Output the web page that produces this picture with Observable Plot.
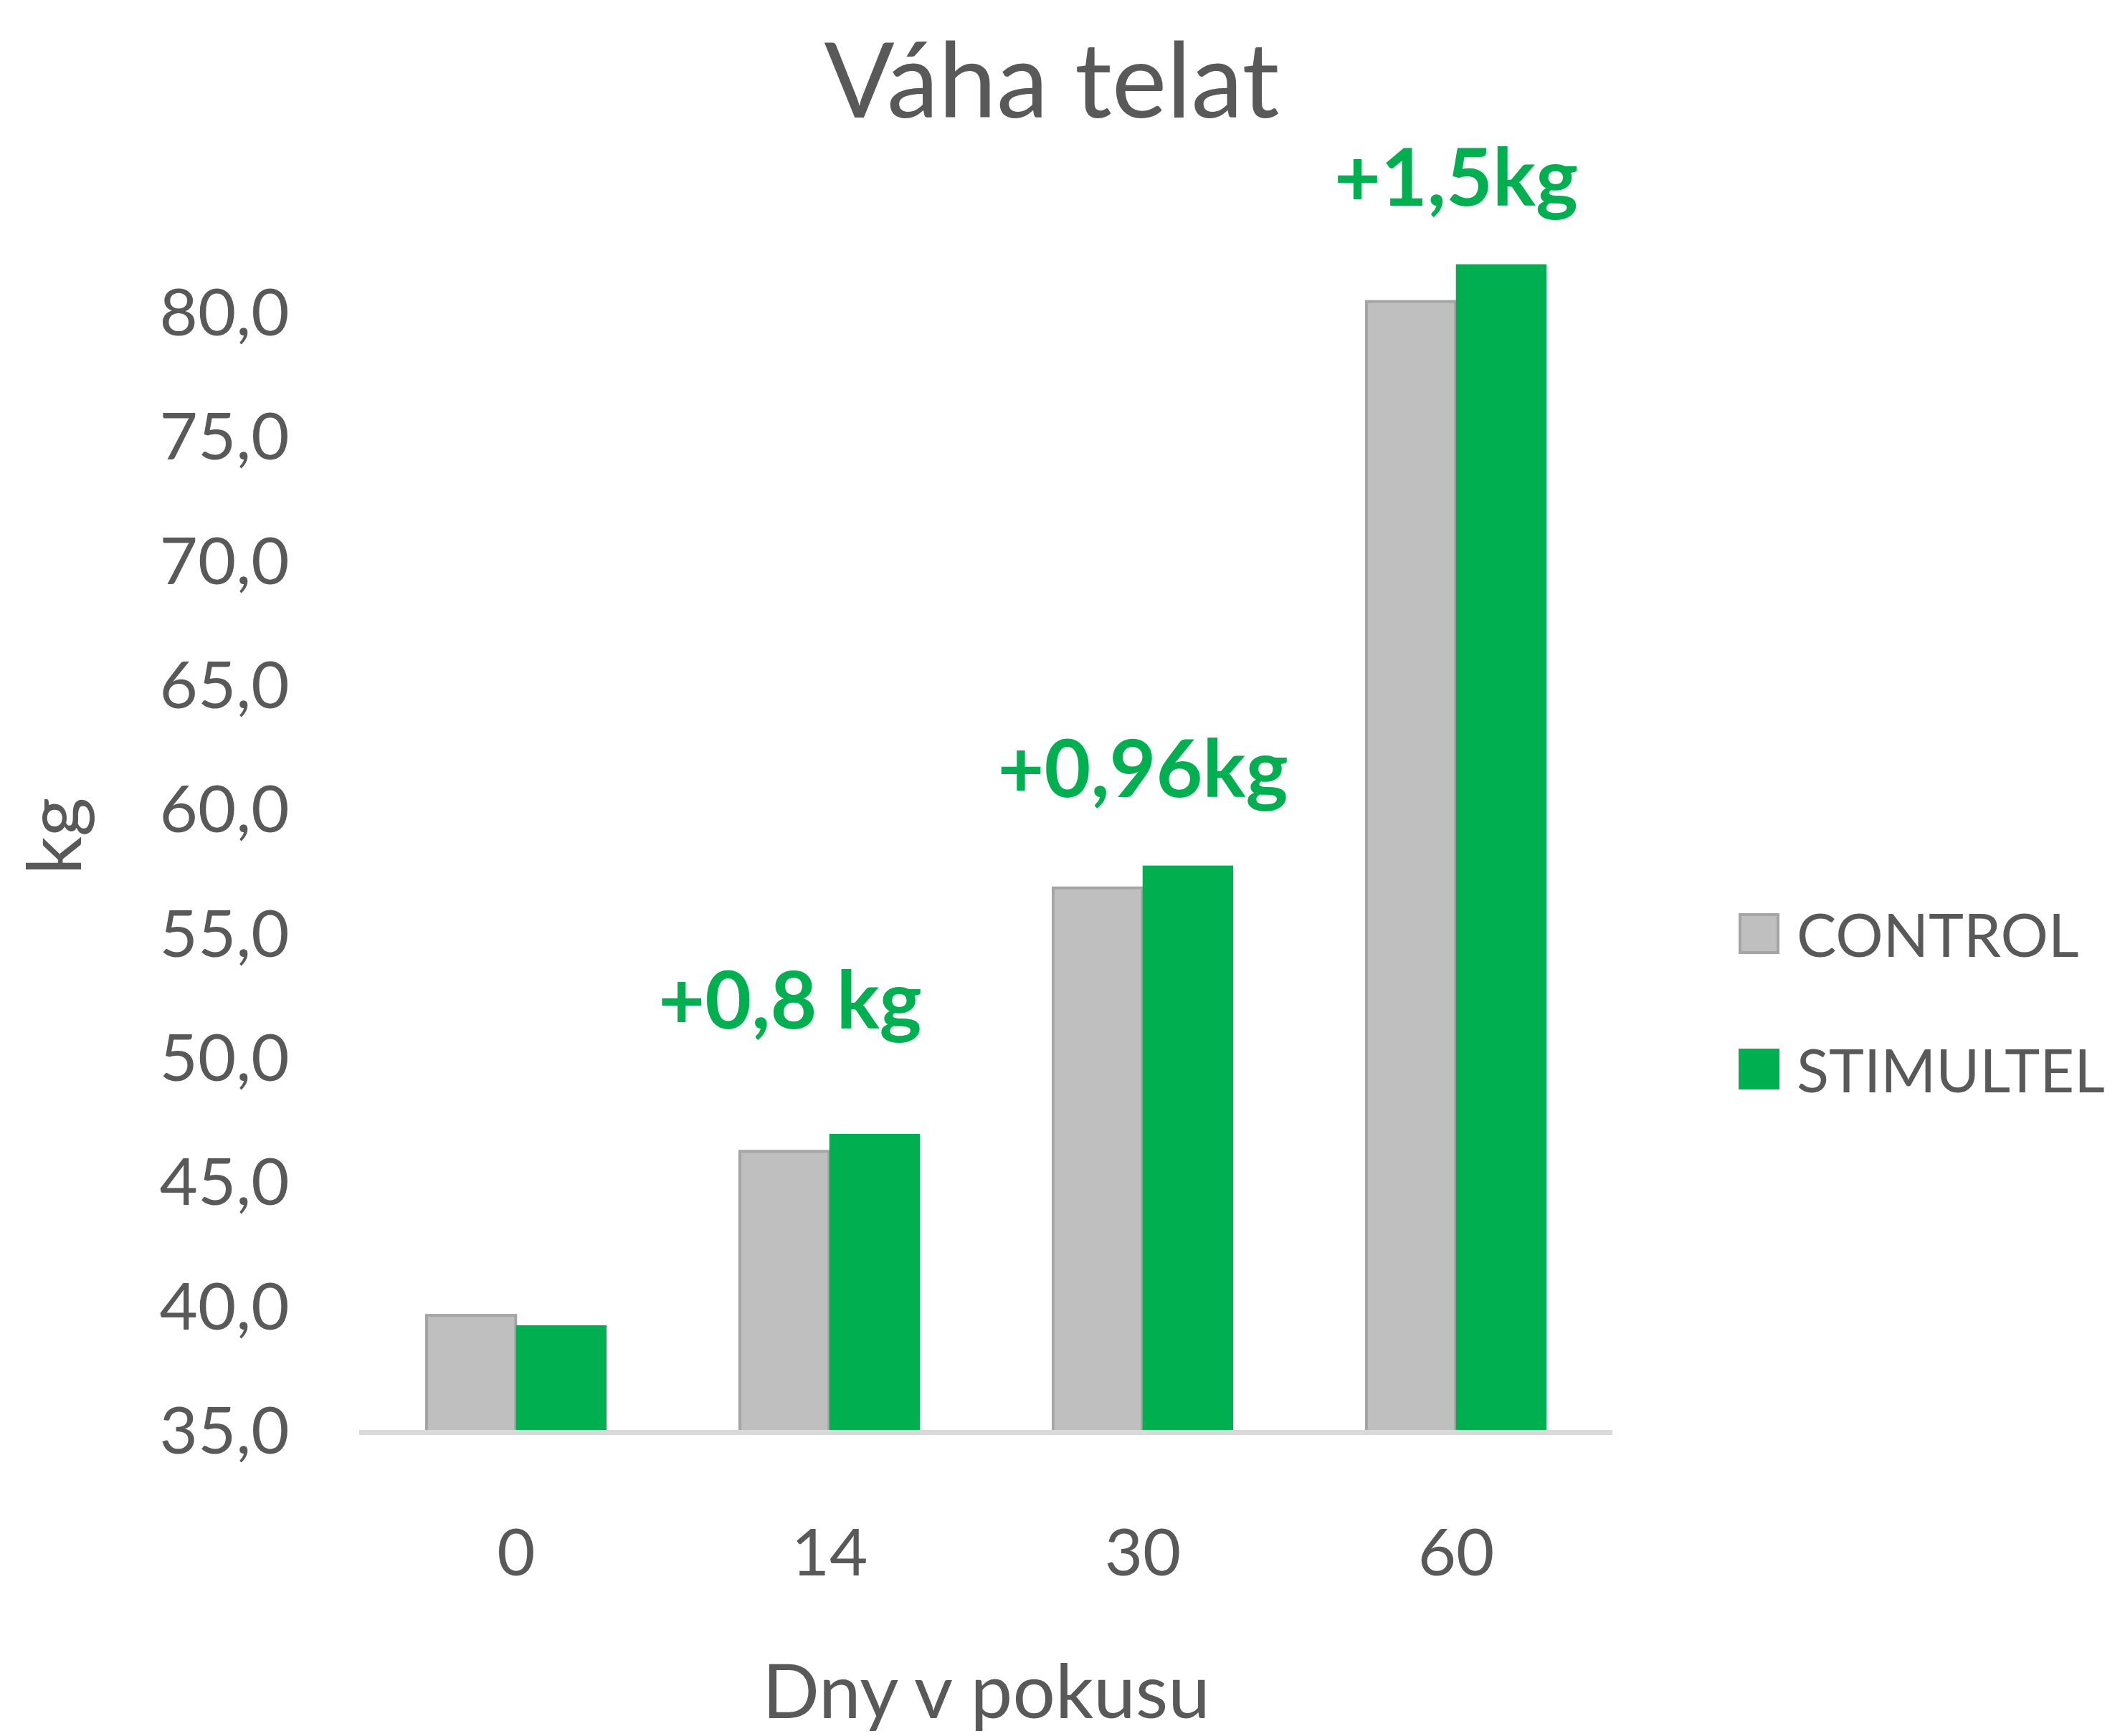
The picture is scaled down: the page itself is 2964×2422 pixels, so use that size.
<!DOCTYPE html>
<html>
<head>
<meta charset="utf-8">
<script src="https://cdn.jsdelivr.net/npm/d3@7"></script>
<script src="https://cdn.jsdelivr.net/npm/@observablehq/plot@0.6"></script>
<style>
  body { margin: 0; background: #fff; font-family: Lato, sans-serif; color: #595959; }
  #wrap { position: relative; width: 2964px; height: 2422px; overflow: hidden; }
  #title { position: absolute; left: 0; top: 0; width: 2934px; height: 216px; line-height: 216px; text-align: center; font-size: 145px; }
  #chart { position: absolute; left: 0; top: 216px; }
  #legend { position: absolute; left: 2425px; top: 1208px; font-size: 83px; }
  .item { display: flex; align-items: center; height: 189px; white-space: nowrap; }
  .sw { width: 57px; height: 57px; box-sizing: border-box; margin-right: 24px; }
</style>
</head>
<body>
<div id="wrap">
  <div id="title">Váha telat</div>
  <div id="chart"></div>
  <div id="legend"></div>
</div>
<script>
// ---- data ----
const days = ["0", "14", "30", "60"];
const seriesNames = ["CONTROL", "STIMULTEL"];
const controlValues = [39.7, 46.3, 56.9, 80.5];
const stimultelValues = [39.3, 47.0, 57.8, 82.0];
const yTicks = [35, 40, 45, 50, 55, 60, 65, 70, 75, 80];
const annotDays = ["14", "30", "60"];
const annotTexts = ["+0,8 kg", "+0,96kg", "+1,5kg"];
const annotValues = [52.3, 61.6, 85.4];
const yTitle = "kg";
const xTitle = "Dny v pokusu";

// ---- styles ----
const colors = {CONTROL: "#BFBFBF", STIMULTEL: "#00B050"};
const controlStroke = "#A5A5A5";
const textColor = "#595959";

const rows = days.map((d, i) => ({day: d, control: controlValues[i], stimultel: stimultelValues[i]}));
const annots = annotDays.map((d, i) => ({day: d, text: annotTexts[i], y: annotValues[i]}));
const yMin = yTicks[0];

const W = 2400, H = 2206, mL = 501, mR = 151, mT = 14, mB = 424;
const padIn = 0.42, padOut = 0.21;
const step = (W - mL - mR) / (days.length - padIn + 2 * padOut);
const halfBand = step * (1 - padIn) / 2;
const fmt = d => d.toFixed(1).replace(".", ",");
const annotStyle = {x: "day", y: "y", text: "text", fill: colors.STIMULTEL, fontWeight: "bold", fontSize: 112};

const chart = Plot.plot({
  width: W, height: H,
  marginLeft: mL, marginRight: mR, marginTop: mT, marginBottom: mB,
  style: {fontFamily: "Lato, sans-serif", color: textColor, background: "transparent", overflow: "visible"},
  x: {domain: days, paddingInner: padIn, paddingOuter: padOut},
  y: {domain: [yMin, 86]},
  marks: [
    Plot.axisY({ticks: yTicks, tickFormat: fmt, tickSize: 0, tickPadding: 98, fontSize: 92, label: null}),
    Plot.text([yTitle], {frameAnchor: "left", rotate: -90, lineAnchor: "top", textAnchor: "middle", dx: -463, dy: 52, fontSize: 105, fill: textColor}),
    Plot.axisX({tickSize: 0, tickPadding: 134, fontSize: 92, label: null}),
    Plot.axisX({ticks: [], label: xTitle, labelArrow: "none", labelAnchor: "center", labelOffset: 398, fontSize: 105}),
    Plot.barY(rows, {x: "day", y1: yMin, y2: "control", fill: colors.CONTROL, stroke: controlStroke, strokeWidth: 4, insetRight: halfBand, insetLeft: 2}),
    Plot.barY(rows, {x: "day", y1: yMin, y2: "stimultel", fill: colors.STIMULTEL, insetLeft: halfBand}),
    Plot.ruleY([yMin], {stroke: "#D9D9D9", strokeWidth: 7}),
    Plot.text(annots.slice(0, 1), {...annotStyle, dx: -55}),
    Plot.text(annots.slice(1), annotStyle)
  ]
});
document.getElementById("chart").appendChild(chart);

const legend = document.getElementById("legend");
seriesNames.forEach(name => {
  const item = document.createElement("div");
  item.className = "item";
  const sw = document.createElement("div");
  sw.className = "sw";
  sw.style.background = colors[name];
  if (name === "CONTROL") sw.style.border = `4px solid ${controlStroke}`;
  item.appendChild(sw);
  const t = document.createElement("span");
  t.textContent = name;
  item.appendChild(t);
  legend.appendChild(item);
});
</script>
</body>
</html>
